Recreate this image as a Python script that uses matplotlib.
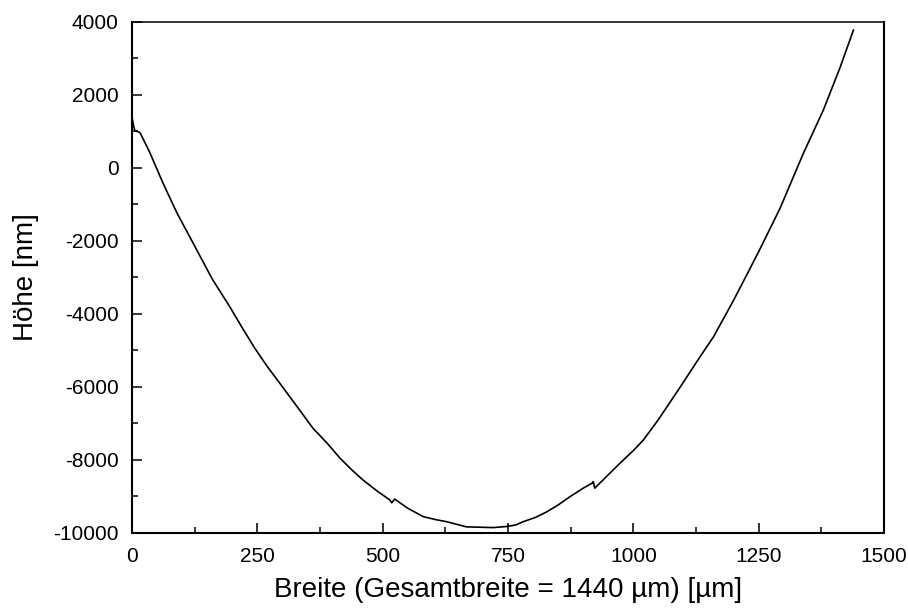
import matplotlib
matplotlib.use('Agg')
import matplotlib.pyplot as plt
from matplotlib.ticker import MultipleLocator
import numpy as np

# Schriftart (Arial-Ersatz), normales Minuszeichen
plt.rcParams['font.family'] = ['Liberation Sans', 'DejaVu Sans']
plt.rcParams['axes.unicode_minus'] = False

# Höhenprofil
breite = [0, 3, 6, 12, 16, 35, 62, 90, 122, 160, 195, 220, 245, 270, 295, 330,
          361, 390, 415, 440, 461, 490, 514, 518, 524, 550, 581, 605, 628,
          667, 694, 720, 747, 765, 780, 805, 827, 850, 874, 900, 918, 920,
          923, 945, 973, 1000, 1020, 1050, 1093, 1133, 1160, 1200, 1250,
          1293, 1339, 1379, 1413, 1439]
hoehe = [1400, 1150, 1000, 990, 960, 430, -430, -1250, -2070, -3050, -3810,
         -4390, -4950, -5450, -5910, -6560, -7140, -7560, -7960, -8300,
         -8560, -8870, -9100, -9180, -9080, -9330, -9560, -9640, -9700,
         -9840, -9850, -9860, -9830, -9790, -9700, -9580, -9430, -9240,
         -9010, -8780, -8640, -8600, -8780, -8480, -8100, -7750, -7460,
         -6900, -6020, -5180, -4630, -3630, -2300, -1100, 390, 1580, 2770,
         3770]

fig = plt.figure(figsize=(9.08, 6.13), dpi=100)
ax = fig.add_axes([0.1454, 0.131, 0.8282, 0.8336])

ax.plot(breite, hoehe, color='black', linewidth=1.2)

ax.set_xlim(0, 1500)
ax.set_ylim(-10000, 4000)
ax.xaxis.set_major_locator(MultipleLocator(250))
ax.xaxis.set_minor_locator(MultipleLocator(125))
ax.yaxis.set_major_locator(MultipleLocator(2000))
ax.yaxis.set_minor_locator(MultipleLocator(1000))

ax.tick_params(which='both', direction='in', top=False, right=False,
               labelsize=15, width=1.1)
ax.tick_params(axis='x', which='both', pad=10)
ax.tick_params(axis='y', which='both', pad=9.5)
ax.tick_params(which='major', length=7.5)
ax.tick_params(which='minor', length=4)

for s in ['left', 'bottom', 'right']:
    ax.spines[s].set_linewidth(1.5)
ax.spines['top'].set_linewidth(1.1)

ax.set_xlabel('Breite (Gesamtbreite = 1440 µm) [µm]', fontsize=20, labelpad=8)
ax.set_ylabel('Höhe [nm]', fontsize=20, labelpad=10)

plt.savefig('out.png', dpi=100)
